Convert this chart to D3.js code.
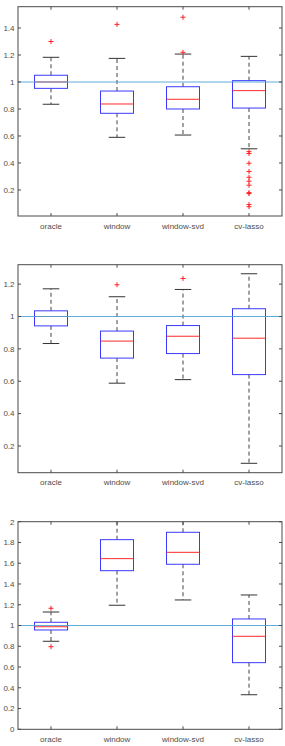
<!DOCTYPE html>
<html>
<head>
<meta charset="utf-8">
<script src="https://cdn.jsdelivr.net/npm/d3@7"></script>
<style>
  body { margin: 0; background: #fff; }
  svg { display: block; font-family: "Liberation Sans", Arial, sans-serif; }
</style>
</head>
<body>
<div id="chart"></div>
<script>
// categories on every panel
const categories = ["oracle", "window", "window-svd", "cv-lasso"];

// box stats per category: [lower whisker, q1, median, q3, upper whisker]
const panel1Boxes = [
  [0.835, 0.953, 1.0, 1.05, 1.183],
  [0.59, 0.768, 0.837, 0.933, 1.175],
  [0.607, 0.8, 0.872, 0.965, 1.207],
  [0.505, 0.807, 0.936, 1.01, 1.19]
];
const panel1Outliers = [
  [1.30],
  [1.427],
  [1.48, 1.22],
  [0.484, 0.47, 0.398, 0.337, 0.294, 0.265, 0.235, 0.18, 0.173, 0.092, 0.076]
];
const panel1Ticks = [0.2, 0.4, 0.6, 0.8, 1, 1.2, 1.4];
const panel1Domain = [0.007, 1.558];

const panel2Boxes = [
  [0.833, 0.942, 1.0, 1.035, 1.171],
  [0.588, 0.743, 0.848, 0.91, 1.122],
  [0.61, 0.771, 0.878, 0.944, 1.167],
  [0.093, 0.641, 0.866, 1.048, 1.264]
];
const panel2Outliers = [
  [],
  [1.196],
  [1.235],
  []
];
const panel2Ticks = [0.2, 0.4, 0.6, 0.8, 1, 1.2];
const panel2Domain = [0.035, 1.32];

const panel3Boxes = [
  [0.848, 0.957, 0.988, 1.031, 1.13],
  [1.195, 1.528, 1.644, 1.827, 2.05],
  [1.246, 1.59, 1.705, 1.898, 2.05],
  [0.333, 0.642, 0.896, 1.063, 1.294]
];
const panel3Outliers = [
  [1.166, 0.796],
  [],
  [],
  []
];
const panel3Ticks = [0, 0.2, 0.4, 0.6, 0.8, 1, 1.2, 1.4, 1.6, 1.8, 2];
const panel3Domain = [0, 2];

const refValue = 1;

const panels = [
  { boxes: panel1Boxes, outliers: panel1Outliers, ticks: panel1Ticks, domain: panel1Domain, top: 6.7, bottom: 216 },
  { boxes: panel2Boxes, outliers: panel2Outliers, ticks: panel2Ticks, domain: panel2Domain, top: 264.7, bottom: 472.7 },
  { boxes: panel3Boxes, outliers: panel3Outliers, ticks: panel3Ticks, domain: panel3Domain, top: 521.7, bottom: 729.3 }
];

const W = 285, H = 746;
const left = 18, right = 282;
const axisColor = "#4a4a4a";
const textColor = "#4d4d4d";
const boxColor = "#3a3aff";
const medianColor = "#ff2a2a";
const refColor = "#4ea3d8";
const fmt = d3.format("~g");

const svg = d3.select("#chart").append("svg")
  .attr("width", W)
  .attr("height", H);

const x = d3.scalePoint()
  .domain(categories)
  .range([left, right])
  .padding(0.5);
const step = x.step();
const boxW = step * 0.5;
const capW = step * 0.25;

panels.forEach((p, pi) => {
  const y = d3.scaleLinear().domain(p.domain).range([p.bottom, p.top]);
  const g = svg.append("g");

  const clipId = "clip" + pi;
  svg.append("clipPath").attr("id", clipId)
    .append("rect")
    .attr("x", left).attr("y", p.top)
    .attr("width", right - left).attr("height", p.bottom - p.top);

  const plot = g.append("g").attr("clip-path", `url(#${clipId})`);

  const items = categories.map((c, i) => ({ cat: c, s: p.boxes[i], out: p.outliers[i] }));

  // dashed whiskers
  plot.selectAll("line.wu").data(items).enter().append("line")
    .attr("x1", d => x(d.cat)).attr("x2", d => x(d.cat))
    .attr("y1", d => y(d.s[3])).attr("y2", d => y(d.s[4]))
    .attr("stroke", "#444").attr("stroke-width", 1)
    .attr("stroke-dasharray", "4,3");
  plot.selectAll("line.wl").data(items).enter().append("line")
    .attr("x1", d => x(d.cat)).attr("x2", d => x(d.cat))
    .attr("y1", d => y(d.s[1])).attr("y2", d => y(d.s[0]))
    .attr("stroke", "#444").attr("stroke-width", 1)
    .attr("stroke-dasharray", "4,3");

  // caps
  [0, 4].forEach(k => {
    plot.selectAll("line.cap" + k).data(items).enter().append("line")
      .attr("x1", d => x(d.cat) - capW / 2).attr("x2", d => x(d.cat) + capW / 2)
      .attr("y1", d => y(d.s[k])).attr("y2", d => y(d.s[k]))
      .attr("stroke", "#333").attr("stroke-width", 1);
  });

  // boxes
  plot.selectAll("rect.box").data(items).enter().append("rect")
    .attr("x", d => x(d.cat) - boxW / 2)
    .attr("y", d => y(d.s[3]))
    .attr("width", boxW)
    .attr("height", d => y(d.s[1]) - y(d.s[3]))
    .attr("fill", "none")
    .attr("stroke", boxColor).attr("stroke-width", 1);

  // medians
  plot.selectAll("line.med").data(items).enter().append("line")
    .attr("x1", d => x(d.cat) - boxW / 2).attr("x2", d => x(d.cat) + boxW / 2)
    .attr("y1", d => y(d.s[2])).attr("y2", d => y(d.s[2]))
    .attr("stroke", medianColor).attr("stroke-width", 1);

  // reference line
  plot.append("line")
    .attr("x1", left).attr("x2", right)
    .attr("y1", y(refValue)).attr("y2", y(refValue))
    .attr("stroke", refColor).attr("stroke-width", 1.2)
    .attr("stroke-opacity", 0.9);

  // outliers as '+'
  const pts = items.flatMap(d => d.out.map(v => ({ cat: d.cat, v })));
  const plus = plot.selectAll("g.out").data(pts).enter().append("g")
    .attr("transform", d => `translate(${x(d.cat)},${y(d.v)})`);
  plus.append("line").attr("x1", -2.5).attr("x2", 2.5).attr("y1", 0).attr("y2", 0)
    .attr("stroke", "#ff2020").attr("stroke-width", 1);
  plus.append("line").attr("x1", 0).attr("x2", 0).attr("y1", -2.5).attr("y2", 2.5)
    .attr("stroke", "#ff2020").attr("stroke-width", 1);

  // axes frame
  g.append("rect")
    .attr("x", left).attr("y", p.top)
    .attr("width", right - left).attr("height", p.bottom - p.top)
    .attr("fill", "none").attr("stroke", axisColor).attr("stroke-width", 1);

  // y ticks (inward, both sides)
  const tl = 3;
  g.selectAll("line.yl").data(p.ticks).enter().append("line")
    .attr("x1", left).attr("x2", left + tl)
    .attr("y1", d => y(d)).attr("y2", d => y(d))
    .attr("stroke", axisColor);
  g.selectAll("line.yr").data(p.ticks).enter().append("line")
    .attr("x1", right).attr("x2", right - tl)
    .attr("y1", d => y(d)).attr("y2", d => y(d))
    .attr("stroke", axisColor);
  g.selectAll("text.yt").data(p.ticks).enter().append("text")
    .attr("x", left - 3.5)
    .attr("y", d => y(d))
    .attr("dy", "0.35em")
    .attr("text-anchor", "end")
    .attr("font-size", 8)
    .attr("fill", textColor)
    .text(d => fmt(d));

  // x ticks (inward, top and bottom)
  g.selectAll("line.xb").data(categories).enter().append("line")
    .attr("x1", d => x(d)).attr("x2", d => x(d))
    .attr("y1", p.bottom).attr("y2", p.bottom - tl)
    .attr("stroke", axisColor);
  g.selectAll("line.xt").data(categories).enter().append("line")
    .attr("x1", d => x(d)).attr("x2", d => x(d))
    .attr("y1", p.top).attr("y2", p.top + tl)
    .attr("stroke", axisColor);
  g.selectAll("text.xl").data(categories).enter().append("text")
    .attr("x", d => x(d))
    .attr("y", p.bottom + 12.5)
    .attr("text-anchor", "middle")
    .attr("font-size", 8)
    .attr("fill", textColor)
    .text(d => d);
});
</script>
</body>
</html>
